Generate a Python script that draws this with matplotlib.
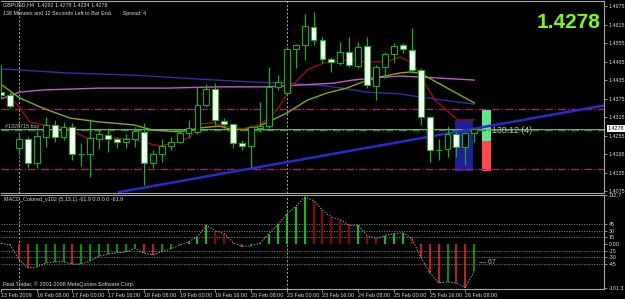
import matplotlib
matplotlib.use('Agg')
import matplotlib.pyplot as plt
from matplotlib.patches import Rectangle

# ---------------- data ----------------
opens = [1.4396, 1.4387, 1.4215, 1.4244, 1.4166, 1.4251, 1.4290, 1.4251, 1.4283, 1.4197,
         1.4195, 1.4244, 1.4257, 1.4244, 1.4234, 1.4244, 1.4267, 1.4166, 1.4195, 1.4221,
         1.4234, 1.4264, 1.4267, 1.4354, 1.4406, 1.4302, 1.4293, 1.4231, 1.4221, 1.4280,
         1.4286, 1.4413, 1.4393, 1.4536, 1.4549, 1.4607, 1.4565, 1.4503, 1.4490, 1.4526,
         1.4481, 1.4545, 1.4416, 1.4477, 1.4519, 1.4549, 1.4532, 1.4468, 1.4315, 1.4210,
         1.4212, 1.4260, 1.4218, 1.4262]
highs = [1.4484, 1.4396, 1.4264, 1.4250, 1.4273, 1.4315, 1.4306, 1.4299, 1.4296, 1.4231,
         1.4309, 1.4277, 1.4280, 1.4251, 1.4260, 1.4283, 1.4296, 1.4208, 1.4244, 1.4251,
         1.4273, 1.4306, 1.4413, 1.4422, 1.4425, 1.4312, 1.4296, 1.4241, 1.4290, 1.4364,
         1.4477, 1.4451, 1.4542, 1.4552, 1.4649, 1.4656, 1.4575, 1.4510, 1.4558, 1.4575,
         1.4558, 1.4575, 1.4484, 1.4526, 1.4555, 1.4555, 1.4604, 1.4474, 1.4319, 1.4244,
         1.4286, 1.4267, 1.4267, 1.4278]
lows = [1.4377, 1.4345, 1.4192, 1.4150, 1.4150, 1.4218, 1.4234, 1.4241, 1.4176, 1.4157,
        1.4121, 1.4212, 1.4202, 1.4215, 1.4215, 1.4218, 1.4095, 1.4150, 1.4170, 1.4208,
        1.4231, 1.4247, 1.4260, 1.4348, 1.4290, 1.4280, 1.4215, 1.4208, 1.4153, 1.4267,
        1.4280, 1.4403, 1.4387, 1.4474, 1.4500, 1.4549, 1.4490, 1.4461, 1.4484, 1.4477,
        1.4474, 1.4409, 1.4370, 1.4442, 1.4494, 1.4523, 1.4458, 1.4290, 1.4170, 1.4176,
        1.4186, 1.4186, 1.4160, 1.4234]
closes = [1.4387, 1.4351, 1.4244, 1.4166, 1.4254, 1.4290, 1.4251, 1.4283, 1.4195, 1.4195,
          1.4247, 1.4260, 1.4244, 1.4234, 1.4244, 1.4270, 1.4166, 1.4195, 1.4221, 1.4234,
          1.4264, 1.4280, 1.4354, 1.4406, 1.4306, 1.4293, 1.4231, 1.4221, 1.4283, 1.4286,
          1.4413, 1.4429, 1.4536, 1.4549, 1.4610, 1.4565, 1.4503, 1.4494, 1.4526, 1.4484,
          1.4542, 1.4419, 1.4477, 1.4519, 1.4545, 1.4536, 1.4468, 1.4315, 1.4208, 1.4208,
          1.4260, 1.4218, 1.4264, 1.4278]

# moving averages (bar position, price)
ma_blue_x = [0.2, 7.4, 14.8, 22.3, 27.9, 32.0, 36.5, 41.0, 44.7, 46.9, 53.0]
ma_blue_y = [1.4471, 1.4458, 1.4451, 1.4438, 1.4429, 1.4425, 1.4416, 1.4396, 1.4390, 1.4380, 1.4357]
ma_violet_x = [0.0, 2.1, 4.7, 11.1, 18.6, 24.5, 29.8, 33.5, 37.2, 39.4, 41.7, 44.7, 46.9, 53.0]
ma_violet_y = [1.4374, 1.4396, 1.4403, 1.4409, 1.4409, 1.4413, 1.4413, 1.4419, 1.4425, 1.4435,
               1.4442, 1.4448, 1.4445, 1.4435]
ma_olive_x = [0.1, 2.1, 4.7, 7.7, 11.1, 14.8, 17.0, 20.0, 22.3, 24.5, 26.0, 28.7, 32.0, 34.3,
              36.5, 38.7, 40.5, 42.4, 44.7, 45.8, 46.9, 53.0]
ma_olive_y = [1.4419, 1.4377, 1.4344, 1.4312, 1.4299, 1.4290, 1.4273, 1.4267, 1.4280, 1.4286,
              1.4273, 1.4283, 1.4328, 1.4370, 1.4393, 1.4409, 1.4429, 1.4445, 1.4458, 1.4461,
              1.4458, 1.4361]
ma_red_x = [1.0, 2.1, 3.2, 4.7, 7.4, 9.6, 12.2, 14.8, 15.9, 17.8, 19.7, 21.2, 22.3, 23.7, 25.6,
            27.1, 29.0, 30.9, 32.7, 34.3, 36.1, 38.7, 41.0, 43.2, 44.7, 46.1, 48.6, 51.1, 53.0]
ma_red_y = [1.4380, 1.4347, 1.4299, 1.4290, 1.4280, 1.4247, 1.4247, 1.4244, 1.4234, 1.4221,
            1.4234, 1.4251, 1.4293, 1.4296, 1.4283, 1.4277, 1.4290, 1.4338, 1.4419, 1.4468,
            1.4490, 1.4500, 1.4494, 1.4494, 1.4510, 1.4490, 1.4370, 1.4306, 1.4306]

# trend line two anchor points (bar, price)
trend_x = [13.2, 67.6]
trend_y = [1.4072, 1.4353]

# horizontal levels
level_hi = 1.4341
level_lo = 1.4147
order_price = 1.4273
bid_price = 1.4278

# MACD histogram
macd = [2, -2, -35, -55, -53, -44, -41, -41, -46, -46,
        -39, -28, -23, -20, -18, -10, -21, -25, -18, -11,
        -3, 5, 17, 43, 30, 24, 3, -6, -4, 2,
        24, 45, 69, 86, 108, 100, 78, 62, 56, 43,
        43, 19, 13, 19, 24, 26, 13, -30, -66, -89,
        -87, -90, -100, -61.9]

price_ticks = [1.4675, 1.4615, 1.4555, 1.4495, 1.4435, 1.4375, 1.4315, 1.4255, 1.4195, 1.4135, 1.4075]
macd_ticks = [112.7, 45, 30, 15, 0, -15, -30, -45, -101.3]
macd_tick_labels = ['112.7', '45', '30', '15', '0.00', '-15', '-30', '-45', '-101.3']
date_ticks = [0, 4, 8, 12, 16, 20, 24, 28, 32, 36, 40, 44, 48, 52]
date_labels = ['13 Feb 2009', '16 Feb 08:00', '17 Feb 00:00', '17 Feb 16:00', '18 Feb 08:00',
               '19 Feb 00:00', '19 Feb 16:00', '20 Feb 08:00', '23 Feb 00:00', '23 Feb 16:00',
               '24 Feb 08:00', '25 Feb 00:00', '25 Feb 16:00', '26 Feb 08:00']
week_seps = [2, 32]

# ---------------- figure ----------------
W, H = 625, 299
fig = plt.figure(figsize=(W / 100, H / 100), dpi=100, facecolor='black')
FONT = 'Liberation Sans'
TXT = '#D8D8D8'
FS = 3.9


def fx(x):
    return x / W


def fy(y):
    return 1 - y / H


XMAX = 603 / 8.93
ax = fig.add_axes([fx(1), fy(193), 603 / W, 192 / H], facecolor='black')
ax2 = fig.add_axes([fx(1), fy(289), 603 / W, 94 / H], facecolor='black')

ax.set_xlim(0, XMAX)
ax.set_ylim(1.40691, 1.46912)
ax2.set_xlim(0, XMAX)
ax2.set_ylim(-103.4, 112.7)

for a in (ax, ax2):
    for s in a.spines.values():
        s.set_color('#A8A8A8')
        s.set_linewidth(0.8)
    a.spines['left'].set_visible(False)

# background objects
ax.add_patch(Rectangle((50.8, 1.4140), 2.1, 1.4306 - 1.4140, facecolor='#1E1E96',
                       edgecolor='none', zorder=1))
ax.add_patch(Rectangle((53.9, 1.4236), 1.0, 1.4338 - 1.4236, facecolor='#5AE888',
                       edgecolor='none', zorder=1))
ax.add_patch(Rectangle((53.9, 1.4140), 1.0, 1.4236 - 1.4140, facecolor='#FF4848',
                       edgecolor='none', zorder=1))

for s in week_seps:
    ax.axvline(s, color='#B0B0B0', lw=0.7, ls=(0, (2, 2)), zorder=1)
    ax2.axvline(s, color='#B0B0B0', lw=0.7, ls=(0, (2, 2)), zorder=1)

ax.axhline(level_hi, color='#B0187A', lw=0.9, ls='-.', zorder=2)
ax.axhline(level_lo, color='#B0187A', lw=0.9, ls='-.', zorder=2)
ax.axhline(bid_price, color='#9A9A9A', lw=0.7, zorder=2)
ax.axhline(order_price, color='#00B000', lw=0.9, ls='-.', zorder=2)

# moving averages
ax.plot(ma_blue_x, ma_blue_y, color='#2633A8', lw=1.0, zorder=3)
ax.plot(ma_violet_x, ma_violet_y, color='#C45AC8', lw=1.0, zorder=3)
ax.plot(ma_olive_x, ma_olive_y, color='#7FB000', lw=1.0, zorder=3)
ax.plot(ma_red_x, ma_red_y, color='#A00A0A', lw=1.0, zorder=3)
ax.plot(trend_x, trend_y, color='#2A2ACF', lw=1.8, zorder=3)

# candles
xs = list(range(len(opens)))
CAND = '#00C400'
ax.vlines(xs, lows, highs, color=CAND, lw=0.8, zorder=4)
bottoms = [min(o, c) for o, c in zip(opens, closes)]
heights = [max(abs(c - o), 0.00008) for o, c in zip(opens, closes)]
faces = ['black' if c > o else 'white' for o, c in zip(opens, closes)]
ax.bar(xs, heights, bottom=bottoms, width=0.66, color=faces, edgecolor=CAND,
       linewidth=0.7, zorder=5)

# price axis
ax.yaxis.tick_right()
ax.set_yticks(price_ticks)
ax.set_yticklabels([f'{p:.4f}' for p in price_ticks])
ax.tick_params(axis='y', colors='#A8A8A8', labelcolor=TXT, labelsize=FS, length=2,
               width=0.6, pad=1.2)
for lab in ax.get_yticklabels():
    lab.set_fontfamily(FONT)
ax.set_xticks([])
ax.annotate(f'{bid_price:.4f}', xy=(1.0, bid_price), xycoords=('axes fraction', 'data'),
            xytext=(2.6, 0), textcoords='offset points', va='center', ha='left',
            fontsize=FS, family=FONT, color='black',
            bbox=dict(boxstyle='square,pad=0.15', facecolor='white', edgecolor='none'))

ax.text(0.4, order_price + 0.0002, '#1328715 buy', color='#B8B8B8', fontsize=FS,
        family=FONT, va='bottom', ha='left', zorder=6)
ax.text(55.0, 1.4270, '138.12 (4)', color='#C0C0C0', fontsize=6.3, family=FONT,
        va='center', ha='left', zorder=6)

# MACD panel
for lv in [45, 30, 15, -15, -30, -45]:
    ax2.axhline(lv, color='#808080', lw=0.6, ls=(0, (1.5, 1.5)), zorder=1)
cols = []
for i, v in enumerate(macd):
    prev = macd[i - 1] if i > 0 else v
    if v >= prev:
        cols.append('#00F000' if v > 0 else '#00B000')
    else:
        cols.append('#B00000' if v > 0 else '#F02020')
ax2.vlines(xs, 0, macd, colors=cols, lw=1.2, zorder=2)
ax2.plot(xs, macd, color='#A0A0A0', lw=0.7, ls=(0, (1.5, 1.5)), zorder=3)
ax2.yaxis.tick_right()
ax2.set_yticks(macd_ticks)
ax2.set_yticklabels(macd_tick_labels)
ax2.tick_params(axis='y', colors='#A8A8A8', labelcolor=TXT, labelsize=FS, length=2,
                width=0.6, pad=1.2)
ax2.set_xticks(date_ticks)
ax2.set_xticklabels(date_labels, ha='left')
ax2.tick_params(axis='x', colors='#A8A8A8', labelcolor=TXT, labelsize=FS, length=2,
                width=0.6, pad=1.0)
for lab in ax2.get_yticklabels() + ax2.get_xticklabels():
    lab.set_fontfamily(FONT)
ax2.text(53.5, -43, '\u2014 67', color='#B0B0B0', fontsize=5, family=FONT, va='center')

# texts
fig.text(fx(3), fy(5), 'GBPUSD,H4  1.4262 1.4278 1.4234 1.4278', color=TXT, fontsize=FS,
         family=FONT, va='center', ha='left')
fig.text(fx(3), fy(13), '138 Minutes and 12 Seconds Left to Bar End.       Spread: 4',
         color=TXT, fontsize=FS, family=FONT, va='center', ha='left')
fig.text(fx(600), fy(22), '1.4278', color='#7CFC00', fontsize=15, fontweight='bold',
         family=FONT, va='center', ha='right')
fig.text(fx(4), fy(200), 'MACD_Colored_v102 (5,13,1) -61.9 0.0 0.0 -61.9', color=TXT,
         fontsize=FS, family=FONT, va='center', ha='left')
fig.text(fx(3), fy(284), 'Real Trader, \u00a9 2001-2008 MetaQuotes Software Corp.', color=TXT,
         fontsize=FS, family=FONT, va='center', ha='left')

fig.savefig('out.png', dpi=100, facecolor='black')
